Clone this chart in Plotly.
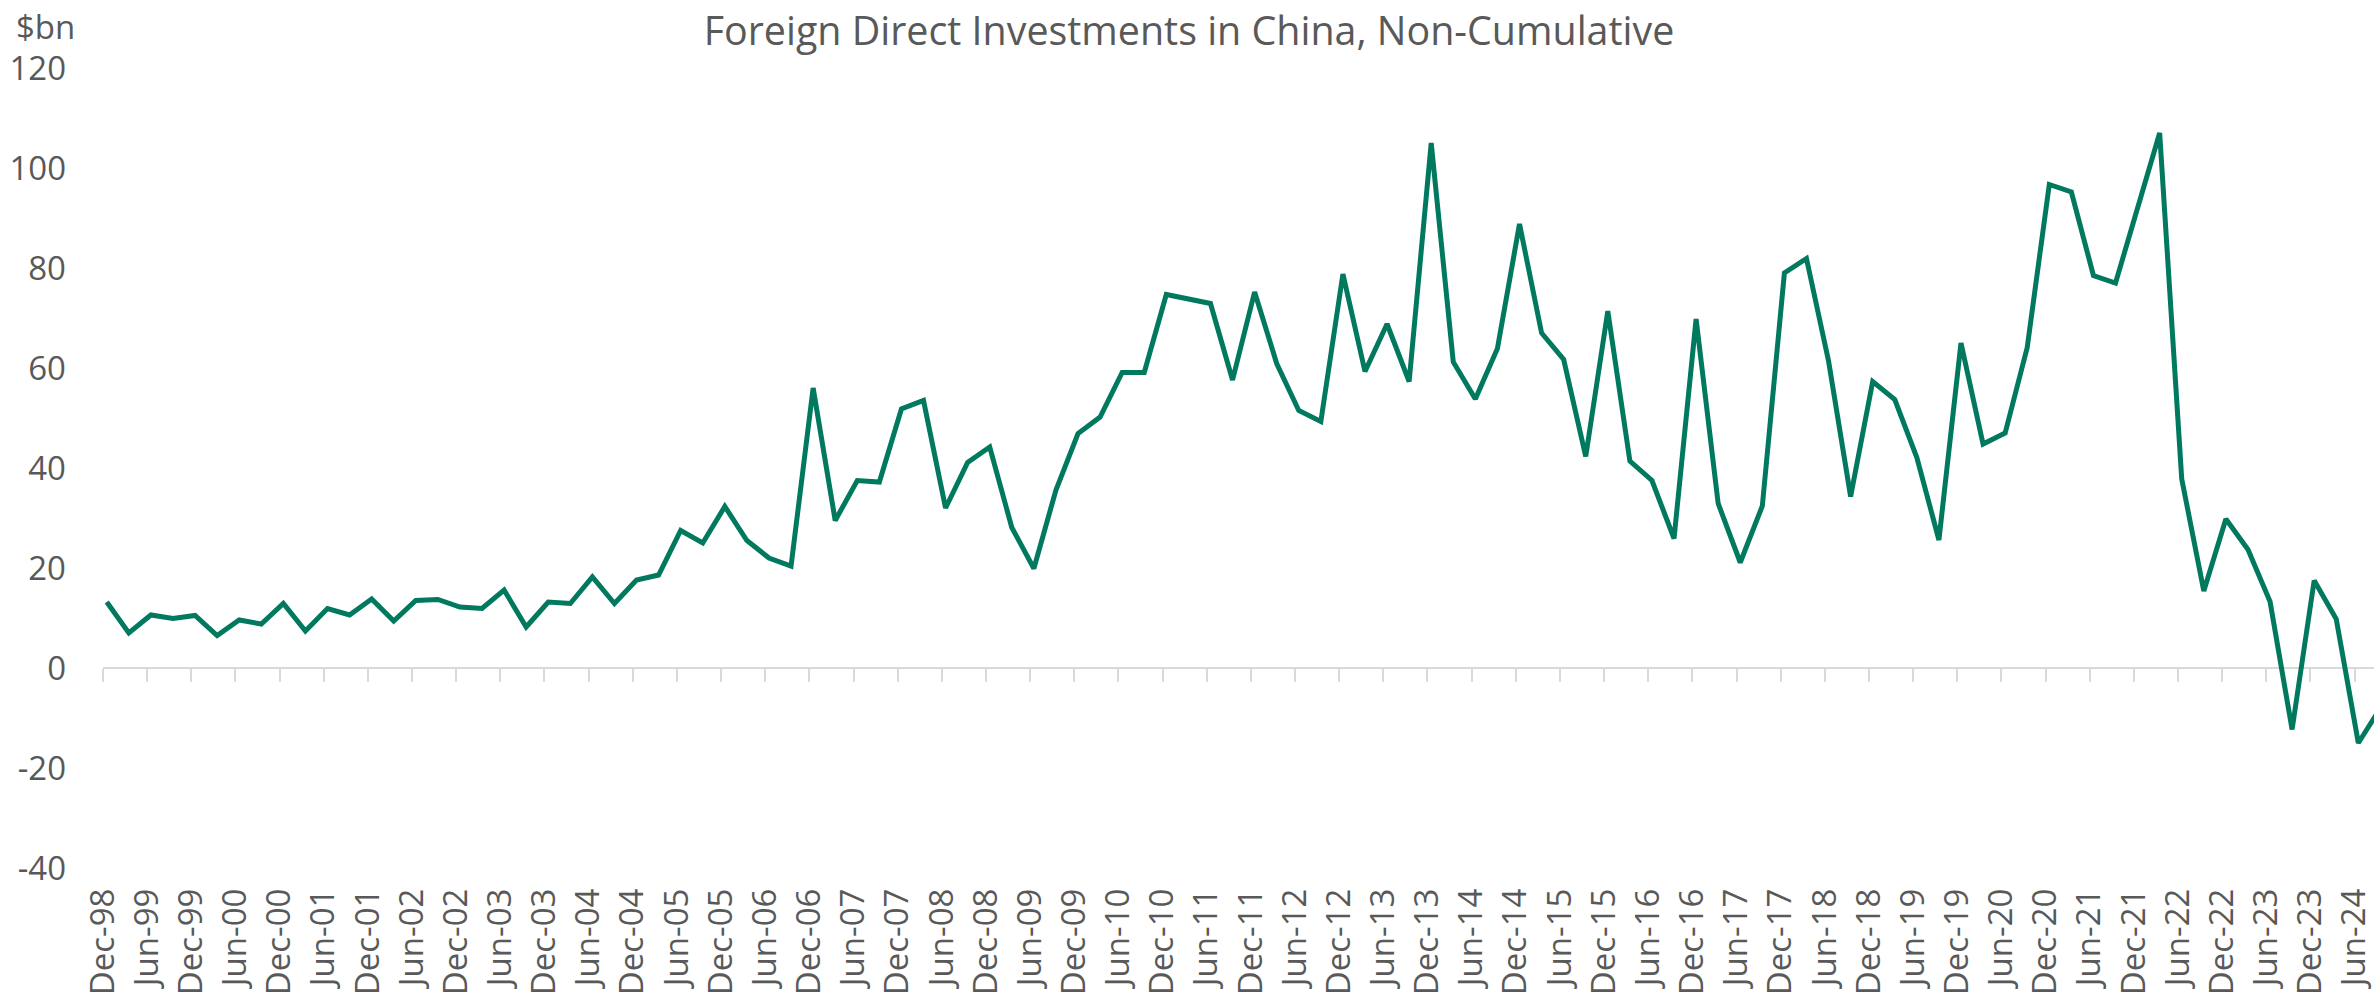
import plotly.graph_objects as go

# ---- data (quarterly, $bn) ----
quarters = [
    "Dec-98", "Mar-99", "Jun-99", "Sep-99", "Dec-99", "Mar-00", "Jun-00", "Sep-00",
    "Dec-00", "Mar-01", "Jun-01", "Sep-01", "Dec-01", "Mar-02", "Jun-02", "Sep-02",
    "Dec-02", "Mar-03", "Jun-03", "Sep-03", "Dec-03", "Mar-04", "Jun-04", "Sep-04",
    "Dec-04", "Mar-05", "Jun-05", "Sep-05", "Dec-05", "Mar-06", "Jun-06", "Sep-06",
    "Dec-06", "Mar-07", "Jun-07", "Sep-07", "Dec-07", "Mar-08", "Jun-08", "Sep-08",
    "Dec-08", "Mar-09", "Jun-09", "Sep-09", "Dec-09", "Mar-10", "Jun-10", "Sep-10",
    "Dec-10", "Mar-11", "Jun-11", "Sep-11", "Dec-11", "Mar-12", "Jun-12", "Sep-12",
    "Dec-12", "Mar-13", "Jun-13", "Sep-13", "Dec-13", "Mar-14", "Jun-14", "Sep-14",
    "Dec-14", "Mar-15", "Jun-15", "Sep-15", "Dec-15", "Mar-16", "Jun-16", "Sep-16",
    "Dec-16", "Mar-17", "Jun-17", "Sep-17", "Dec-17", "Mar-18", "Jun-18", "Sep-18",
    "Dec-18", "Mar-19", "Jun-19", "Sep-19", "Dec-19", "Mar-20", "Jun-20", "Sep-20",
    "Dec-20", "Mar-21", "Jun-21", "Sep-21", "Dec-21", "Mar-22", "Jun-22", "Sep-22",
    "Dec-22", "Mar-23", "Jun-23", "Sep-23", "Dec-23", "Mar-24", "Jun-24", "Sep-24",
]
fdi = [
    13.2, 7.0, 10.6, 9.9, 10.5, 6.5, 9.6, 8.8,
    12.9, 7.4, 11.9, 10.6, 13.8, 9.4, 13.5, 13.7,
    12.2, 11.9, 15.6, 8.2, 13.2, 12.9, 18.2, 12.9,
    17.6, 18.6, 27.5, 25.0, 32.3, 25.5, 22.0, 20.4,
    56.0, 29.5, 37.5, 37.2, 51.8, 53.5, 32.0, 41.1,
    44.2, 28.1, 19.9, 35.6, 46.9, 50.2, 59.1, 59.1,
    74.7, 73.7, 72.9, 57.6, 75.2, 60.9, 51.5, 49.3,
    78.8, 59.3, 68.8, 57.3, 105.0, 61.2, 53.8, 63.9,
    88.8, 67.0, 61.7, 42.3, 71.4, 41.4, 37.5, 25.9,
    69.8, 32.9, 21.1, 32.4, 79.0, 81.9, 61.4, 34.3,
    57.3, 53.7, 42.1, 25.6, 65.0, 44.8, 47.0, 64.1,
    96.7, 95.2, 78.5, 77.0, 92.2, 107.0, 37.8, 15.4,
    29.8, 23.7, 13.3, -12.3, 17.5, 9.8, -15.0, -8.0,
]
tick_labels = quarters[0:103:2]  # every second quarter: Dec-98 ... Jun-24
y_ticks = [-40, -20, 0, 20, 40, 60, 80, 100, 120]
y_tick_text = [str(v) for v in y_ticks]

# ---- styling ----
W, H = 2374, 1003
ML, MR, MT, MB = 103, 0, 68, 135
TXT = "#595959"
GRID = "#d9d9d9"
LINE = "#00795f"
FONT = "Open Sans"

xpos = list(range(len(fdi)))
tick_off = -0.17
tickvals = [xpos[quarters.index(t)] + tick_off for t in tick_labels]
xrange = [tick_off, 102.71]

fig = go.Figure()
fig.add_trace(go.Scatter(x=[None], y=[None], xaxis="x", yaxis="y",
                         showlegend=False, hoverinfo="skip"))
fig.add_trace(go.Scatter(x=xpos, y=fdi, mode="lines", xaxis="x2", yaxis="y",
                         line=dict(color=LINE, width=5), showlegend=False))

plot_h = H - MT - MB
fig.update_layout(
    width=W, height=H,
    margin=dict(l=ML, r=MR, t=MT, b=MB, autoexpand=False),
    paper_bgcolor="white", plot_bgcolor="white",
    font=dict(family=FONT, color=TXT),
    title=dict(text="Foreign Direct Investments in China, Non-Cumulative",
               x=1189 / W, xanchor="center", y=1 - 31 / H, yanchor="middle",
               font=dict(size=39.4, color=TXT, family=FONT)),
    xaxis=dict(range=xrange, tickmode="array", tickvals=tickvals, ticktext=tick_labels,
               tickangle=-90, ticks="", showline=False, showgrid=False, zeroline=False,
               automargin=False, ticklabeloverflow="allow",
               tickfont=dict(size=33, color=TXT), ticklabelstandoff=13),
    xaxis2=dict(range=xrange, overlaying="x", anchor="free",
                position=(0 - y_ticks[0]) / (y_ticks[-1] - y_ticks[0]),
                tickmode="array", tickvals=tickvals, ticks="outside", ticklen=13,
                tickwidth=2, tickcolor=GRID, showline=True, linecolor=GRID, linewidth=2,
                showticklabels=False, showgrid=False, zeroline=False, automargin=False,
                layer="below traces"),
    yaxis=dict(range=[y_ticks[0], y_ticks[-1]], tickmode="array", tickvals=y_ticks,
               ticktext=y_tick_text,
               showgrid=False, zeroline=False, showline=False, ticks="",
               automargin=False, ticklabeloverflow="allow",
               tickfont=dict(size=33, color=TXT), ticklabelstandoff=36),
    annotations=[dict(text="$bn", xref="paper", yref="paper",
                      x=(14 - ML) / (W - ML - MR), y=(H - MB - 27) / plot_h,
                      xanchor="left", yanchor="middle", showarrow=False,
                      font=dict(size=33, color=TXT, family=FONT))],
)

fig.write_html("out.html",
               config={"displayModeBar": False},
               post_script=["document.body.style.margin='0';"
                            "document.body.style.overflow='hidden';"])
